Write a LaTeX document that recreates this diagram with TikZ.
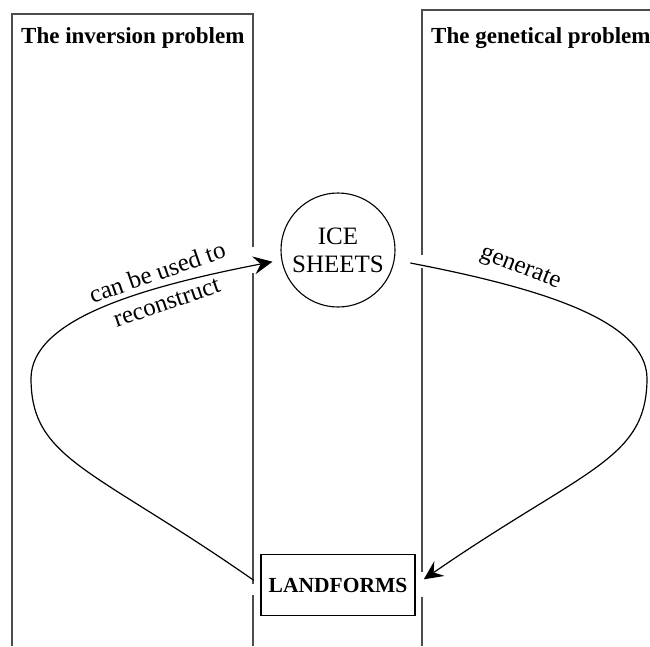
\documentclass[tikz,border=0pt]{standalone}
\usepackage{fontspec}
\setmainfont{Liberation Serif}
\usetikzlibrary{positioning, arrows.meta}

\tikzset{
    frame/.style={draw=black!70, line width=1.1pt},
    paneltitle/.style={anchor=base west, inner sep=0pt, font=\fontsize{23}{26}\selectfont\bfseries},
    edgetext/.style={inner sep=1pt, font=\fontsize{25}{28}\selectfont},
    flow/.style={line width=1.2pt, -{Stealth[length=19pt, width=18pt, inset=7pt]}}
}

\begin{document}
\begin{tikzpicture}[x=1pt, y=-1pt]
            \useasboundingbox (0,0) rectangle (650,646);
            \clip (0,0) rectangle (650,646);

            % panels, broken where the arrows pass
            \draw[frame] (253,646) -- (253,595) (253,584) -- (253,273)
                (253,247) -- (253,14) -- (12,14) -- (12,646);
            \draw[frame] (422,646) -- (422,597) (422,572) -- (422,268)
                (422,255) -- (422,10) -- (660,10);
            \node[paneltitle] (inv) at (21,43) {The inversion problem};
            \node[paneltitle] (gen) at (431,43) {The genetical problem};

            \node[draw, circle, line width=1.1pt, minimum size=114pt, align=center, edgetext] (ice) at (338,250) {ICE\\SHEETS};
            \node[draw, line width=1.1pt, minimum width=154pt, minimum height=61pt, font=\fontsize{21.5}{24}\selectfont\bfseries] (land) at (338,585) {LANDFORMS};

            \draw[flow, shorten <=8pt, shorten >=9pt] (land.west) .. controls (93,468) and (31,460) .. (31,378)
                .. controls (32,320) and (137,288) .. (ice.190);
            \draw[flow, shorten <=16pt, shorten >=10pt] (ice.-10) .. controls (540,288) and (646,320) .. (647,378)
                .. controls (647,460) and (585,468) .. (land.east);

            \node[edgetext, rotate=19] (can) at (157,272) {can be used to};
            \node[edgetext, rotate=19] (rec) at (167,303) {reconstruct};
            \node[edgetext, rotate=-21.6] (gnr) at (520,269) {generate};
        \end{tikzpicture}
\end{document}
